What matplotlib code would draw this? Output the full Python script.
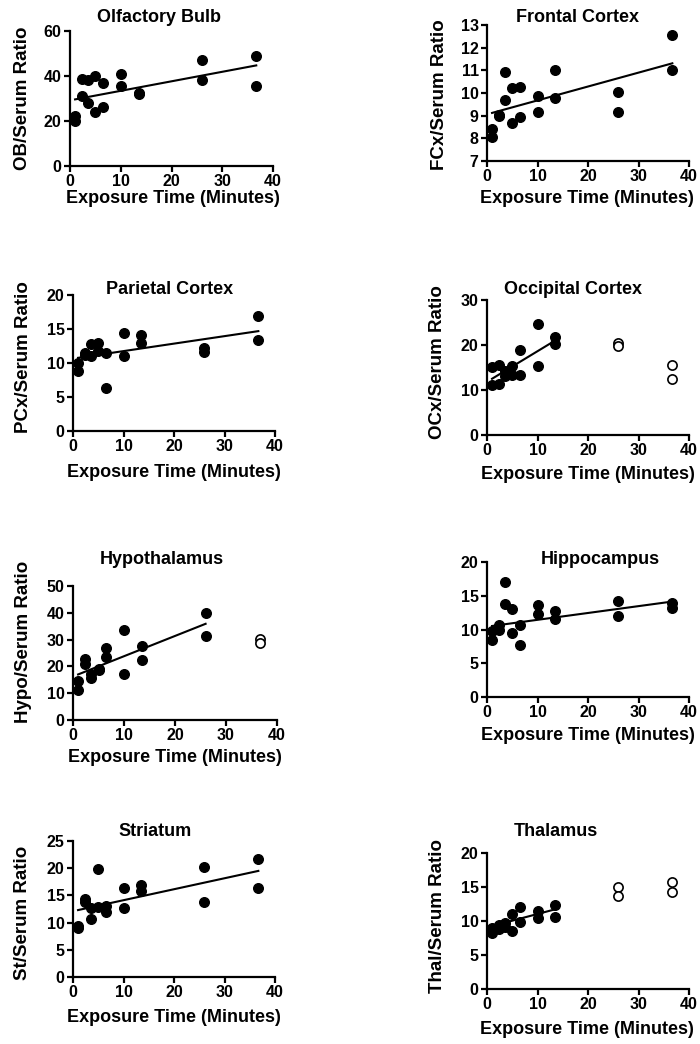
import matplotlib
matplotlib.use("Agg")
import matplotlib.pyplot as plt
import numpy as np

plt.rcParams['font.family'] = ['Liberation Sans', 'DejaVu Sans']
plt.rcParams['font.weight'] = 'bold'

# Exposure times (minutes), two animals per time point
times = [1, 1, 2.3, 2.3, 3.6, 3.6, 5, 5, 6.5, 6.5, 10, 10, 13.5, 13.5, 26, 26, 36.7, 36.7]

ob_ratio = [22.1, 20.0, 38.8, 31.3, 38.1, 28.0, 40.0, 23.9, 37.0, 26.2, 40.9, 35.4, 32.1, 32.3, 47.3, 38.1, 48.7, 35.7]
fcx_ratio = [8.39, 8.06, 9.0, 9.05, 10.91, 9.71, 10.23, 8.67, 10.27, 8.92, 9.85, 9.17, 11.0, 9.76, 10.04, 9.17, 12.56, 11.0]
pcx_ratio = [9.93, 8.85, 11.4, 11.2, 12.78, 11.1, 13.0, 11.74, 11.4, 6.39, 14.35, 11.0, 14.05, 12.97, 12.2, 11.6, 16.95, 13.37]
ocx_ratio = [15.1, 11.1, 15.6, 11.4, 14.2, 13.1, 15.3, 13.4, 18.8, 13.3, 24.7, 15.3, 21.8, 20.2, 20.4, 19.8, 15.6, 12.4]
hypo_ratio = [14.5, 11.2, 22.9, 21.0, 17.1, 15.5, 19.0, 18.8, 26.7, 23.5, 33.5, 17.0, 27.7, 22.4, 39.75, 31.3, 30.3, 28.8]
hippo_ratio = [9.83, 8.44, 10.6, 9.9, 17.0, 13.75, 13.1, 9.48, 10.6, 7.7, 13.6, 12.36, 12.8, 11.56, 14.24, 11.96, 14.0, 13.25]
st_ratio = [9.46, 8.97, 14.43, 13.7, 12.65, 10.6, 19.84, 12.78, 13.0, 12.04, 16.4, 12.65, 16.9, 15.8, 20.15, 13.8, 21.7, 16.4]
thal_ratio = [9.0, 8.18, 9.4, 8.77, 9.66, 9.06, 11.03, 8.47, 12.0, 9.9, 11.48, 10.5, 12.3, 10.64, 15.07, 13.74, 15.71, 14.29]

titles = ["Olfactory Bulb", "Frontal Cortex", "Parietal Cortex", "Occipital Cortex",
          "Hypothalamus", "Hippocampus", "Striatum", "Thalamus"]
ylabels = ["OB/Serum Ratio", "FCx/Serum Ratio", "PCx/Serum Ratio", "OCx/Serum Ratio",
           "Hypo/Serum Ratio", "", "St/Serum Ratio", "Thal/Serum Ratio"]
ratios = [ob_ratio, fcx_ratio, pcx_ratio, ocx_ratio, hypo_ratio, hippo_ratio, st_ratio, thal_ratio]
# linear fit: slope, intercept, last time point included in fit (later points open)
fit_slope = [0.423, 0.0613, 0.110, 0.68, 0.756, 0.1014, 0.2017, 0.197]
fit_intercept = [29.18, 9.06, 10.65, 11.82, 16.24, 10.42, 12.10, 9.06]
fit_tmax = [36.7, 36.7, 36.7, 13.5, 26, 36.7, 36.7, 13.5]
y_ranges = [(0, 60), (7, 13), (0, 20), (0, 30), (0, 50), (0, 20), (0, 25), (0, 20)]
y_steps = [20, 1, 5, 10, 10, 5, 5, 5]
x_ticks = [0, 10, 20, 30, 40]

W, H = 700, 1044
# axes boxes in pixels: left, right, top, bottom
boxes = [(70, 273, 31, 166), (487, 689, 25, 161),
         (73, 275, 295, 431), (487, 689, 300, 435),
         (73, 277, 586, 720), (487, 689, 562, 697),
         (73, 275, 841, 977), (487, 689, 853, 989)]
title_pos = [(159, 17), (577, 17), (170, 289), (573, 290),
             (162, 560), (600, 560), (155, 832), (556, 832)]
ylabel_pos = [(23, 98), (440, 95), (24, 357), (437, 362),
              (24, 642), (0, 0), (23, 913), (437, 916)]
xlabel_pos = [(173, 199), (587, 199), (174, 473), (588, 474),
              (175, 757), (588, 735), (174, 1017), (587, 1029)]

fig = plt.figure(figsize=(W / 100, H / 100), dpi=100)

for i in range(8):
    l, r, t, b = boxes[i]
    ax = fig.add_axes([l / W, 1 - b / H, (r - l) / W, (b - t) / H])
    x = np.array(times)
    y = np.array(ratios[i])
    filled = x <= fit_tmax[i]
    ax.scatter(x[filled], y[filled], s=48, color='black', zorder=3, clip_on=False)
    if (~filled).any():
        ax.scatter(x[~filled], y[~filled], s=44, facecolor='white', edgecolor='black',
                   linewidth=1.2, zorder=3, clip_on=False)
    xf = np.array([x[filled].min(), x[filled].max()])
    ax.plot(xf, fit_slope[i] * xf + fit_intercept[i], color='black', lw=1.5, zorder=2)
    ax.set_xlim(0, 40)
    ax.set_ylim(*y_ranges[i])
    ax.set_xticks(x_ticks)
    ax.set_yticks(np.arange(y_ranges[i][0], y_ranges[i][1] + 0.001, y_steps[i]))
    for s in ['top', 'right']:
        ax.spines[s].set_visible(False)
    for s in ['left', 'bottom']:
        ax.spines[s].set_linewidth(1.6)
    ax.tick_params(direction='out', length=4, width=1.6, labelsize=11.5, pad=2)
    for lab in ax.get_xticklabels() + ax.get_yticklabels():
        lab.set_fontweight('bold')
    fig.text(title_pos[i][0] / W, 1 - title_pos[i][1] / H, titles[i], ha='center', va='center',
             fontsize=13, fontweight='bold')
    if ylabels[i]:
        fig.text(ylabel_pos[i][0] / W, 1 - ylabel_pos[i][1] / H, ylabels[i], ha='center', va='center',
                 rotation=90, fontsize=13.5, fontweight='bold')
    fig.text(xlabel_pos[i][0] / W, 1 - xlabel_pos[i][1] / H, "Exposure Time (Minutes)", ha='center',
             va='center', fontsize=13, fontweight='bold')

fig.savefig("out.png", dpi=100)
